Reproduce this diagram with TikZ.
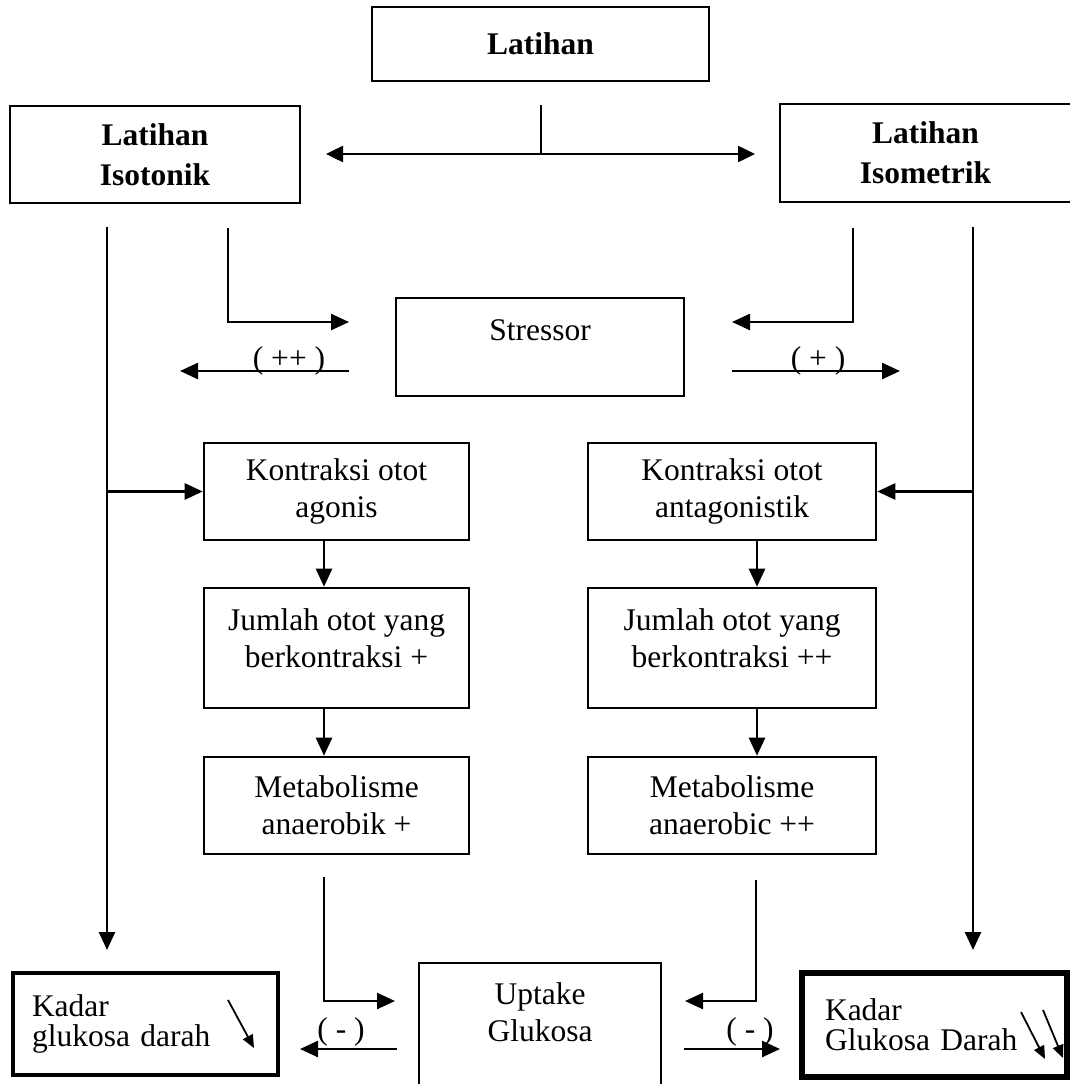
\documentclass[tikz,border=0pt]{standalone}
\usepackage{fontspec}
\setmainfont{Liberation Serif}
\usetikzlibrary{arrows.meta}
\begin{document}
\begin{tikzpicture}[x=1pt,y=-1pt,
  every node/.style={font=\fontsize{31.5}{37}\selectfont, inner sep=0pt},
  box/.style={draw, line width=2.6pt, rectangle, align=center},
  head/.style={font=\bfseries\fontsize{31.5}{40}\selectfont},
  kadar/.style={draw, rectangle, align=left, font=\fontsize{31.5}{30}\selectfont},
  link/.style={line width=2.5pt},
  arr/.style={link, -{Triangle[length=18pt,width=16pt]}},
  darr/.style={link, {Triangle[length=17pt,width=16pt]}-{Triangle[length=17pt,width=16pt]}},
  fall/.style={line width=1.8pt, -{Triangle[length=13pt,width=11pt]}},
  tag/.style={font=\fontsize{31.5}{37}\selectfont}
]
\useasboundingbox (0,0) rectangle (1069,1084);
\fill[white] (0,0) rectangle (1069,1084);

% --- top level -------------------------------------------------------
\node[box, head, minimum width=337, minimum height=74] (lat) at (540.5,44) {Latihan};
\node[box, head, minimum width=290, minimum height=97] (iso) at (155,154.5) {Latihan\\Isotonik};
\node[box, head, minimum width=291, minimum height=98] (isom) at (925.5,153) {Latihan\\Isometrik};

\coordinate (splitTop) at (541,105);
\coordinate (splitMid) at (541,154);
\coordinate (splitL) at (326,154);
\coordinate (splitR) at (755,154);
\draw[link] (splitTop) -- (splitMid);
\draw[darr] (splitL) -- (splitR);

% --- stressor --------------------------------------------------------
\node[box, minimum width=288, minimum height=98,
      label={[name=strT, yshift=17pt]center:Stressor}] (str) at (540,347) {};

\coordinate (isoDrop) at (228,228);
\coordinate (isoCorner) at (228,322);
\coordinate (strInL) at (349,322);
\coordinate (isomDrop) at (853,228);
\coordinate (isomCorner) at (853,322);
\coordinate (strInR) at (732,322);
\draw[arr] (isoDrop) -- (isoCorner) -- (strInL);
\draw[arr] (isomDrop) -- (isomCorner) -- (strInR);

\coordinate (strOutL) at (349,371);
\coordinate (strEndL) at (180,371);
\coordinate (strOutR) at (732,371);
\coordinate (strEndR) at (900,371);
\draw[arr] (strOutL) -- (strEndL);
\draw[arr] (strOutR) -- (strEndR);
\node[tag] (plusL) at (289,361) {( ++ )};
\node[tag] (plusR) at (818,361) {( + )};

% --- muscle chains ---------------------------------------------------
\node[box, minimum width=265, minimum height=97] (konL) at (336.5,491.5) {Kontraksi otot\\agonis};
\node[box, minimum width=265, minimum height=120,
      label={[name=jmlLT, align=center, yshift=10pt]center:{Jumlah otot yang\\berkontraksi +}}] (jmlL) at (336.5,648) {};
\node[box, minimum width=265, minimum height=97] (metL) at (336.5,805.5) {Metabolisme\\anaerobik +};

\node[box, minimum width=288, minimum height=97] (konR) at (732,491.5) {Kontraksi otot\\antagonistik};
\node[box, minimum width=288, minimum height=120,
      label={[name=jmlRT, align=center, yshift=10pt]center:{Jumlah otot yang\\berkontraksi ++}}] (jmlR) at (732,648) {};
\node[box, minimum width=288, minimum height=97] (metR) at (732,805.5) {Metabolisme\\anaerobic ++};

\coordinate (colL) at (324,0);
\coordinate (colR) at (757,0);
\draw[arr] (konL.south -| colL) -- (jmlL.north -| colL);
\draw[arr] (jmlL.south -| colL) -- (metL.north -| colL);
\draw[arr] (konR.south -| colR) -- (jmlR.north -| colR);
\draw[arr] (jmlR.south -| colR) -- (metR.north -| colR);

% --- side rails ------------------------------------------------------
\coordinate (railLTop) at (107,227);
\coordinate (railLEnd) at (107,950);
\coordinate (railRTop) at (973,227);
\coordinate (railREnd) at (973,950);
\draw[arr] (railLTop) -- (railLEnd);
\draw[arr] (railRTop) -- (railREnd);
\draw[arr] (konL.west -| railLTop) -- (konL.west);
\draw[arr] (konR.east -| railRTop) -- (konR.east);

% --- glucose uptake --------------------------------------------------
\node[box, minimum width=242, minimum height=127,
      label={[name=uptT, align=center, yshift=14.5pt]center:{Uptake\\Glukosa}}] (upt) at (540,1026.5) {};

\coordinate (metLOut) at (324,877);
\coordinate (metLCorner) at (324,1001);
\coordinate (uptInL) at (395,1001);
\coordinate (metROut) at (756,880);
\coordinate (metRCorner) at (756,1001);
\coordinate (uptInR) at (685,1001);
\draw[arr] (metLOut) -- (metLCorner) -- (uptInL);
\draw[arr] (metROut) -- (metRCorner) -- (uptInR);

\coordinate (uptOutL) at (397,1049);
\coordinate (kadInL) at (300,1049);
\coordinate (uptOutR) at (684,1049);
\coordinate (kadInR) at (780,1049);
\draw[arr] (uptOutL) -- (kadInL);
\draw[arr] (uptOutR) -- (kadInR);
\node[tag] (minusL) at (341,1032) {( - )};
\node[tag] (minusR) at (750,1032) {( - )};

% --- blood glucose ---------------------------------------------------
\node[kadar, line width=4pt, inner xsep=19pt, text width=227pt, minimum height=102]
  (kadL) at (145.5,1024) {Kadar\\glukosa darah};
\node[kadar, line width=5.5pt, inner xsep=23pt, text width=219pt, minimum height=104]
  (kadR) at (934.5,1025) {Kadar\\Glukosa Darah};

\coordinate (dropLa) at (228,1000);
\coordinate (dropLb) at (254,1048);
\draw[fall] (dropLa) -- (dropLb);
\coordinate (dropR1a) at (1021,1012);
\coordinate (dropR1b) at (1045,1059);
\coordinate (dropR2a) at (1043,1010);
\coordinate (dropR2b) at (1063,1058);
\draw[fall] (dropR1a) -- (dropR1b);
\draw[fall] (dropR2a) -- (dropR2b);
\end{tikzpicture}
\end{document}
